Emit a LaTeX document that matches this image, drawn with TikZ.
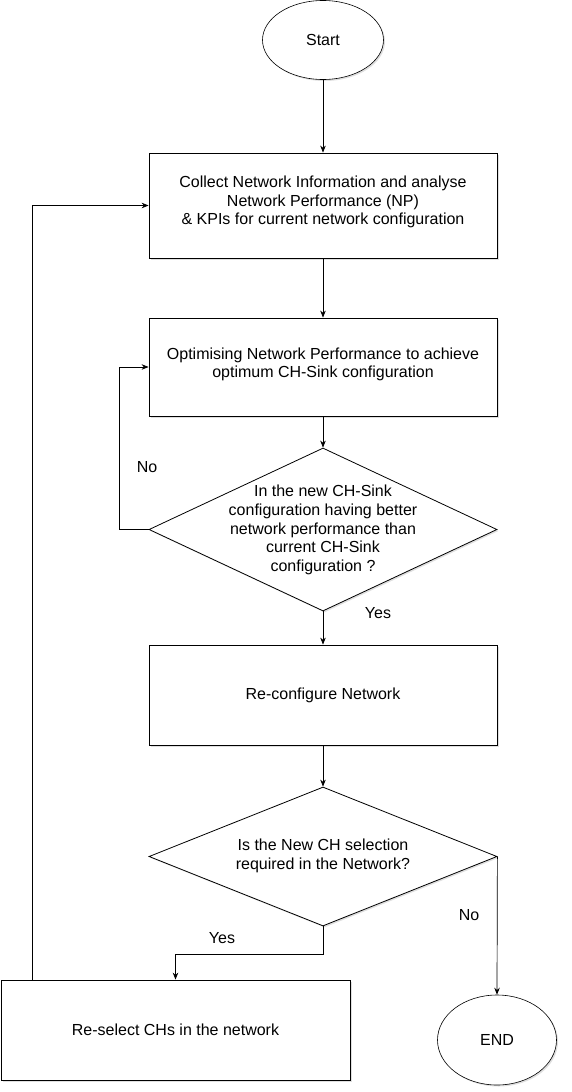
\documentclass[tikz,border=0pt]{standalone}
\usepackage{fontspec}
\setmainfont{Liberation Sans}
\usetikzlibrary{shapes.geometric,arrows.meta,shadows}
\begin{document}
\begin{tikzpicture}[x=1pt,y=-1pt,
  font=\fontsize{16}{18.7}\selectfont,
  shad/.style={drop shadow={opacity=0.25,shadow xshift=1.5pt,shadow yshift=-1.5pt}},
  procbox/.style={draw, fill=white, line width=0.8pt, shad, align=center, inner sep=0pt},
  oval/.style={ellipse, draw, fill=white, line width=0.6pt, shad, inner sep=0pt},
  decision/.style={diamond, draw, fill=white, line width=0.8pt, shad, inner sep=0pt},
  arr/.style={-{Stealth[length=7pt,width=5.5pt]}, line width=0.7pt},
  lbl/.style={inner sep=0pt, align=center}
]
\useasboundingbox (0,0) rectangle (571,1092);
\node[oval, minimum width=121pt, minimum height=79pt] (start) at (323,40) {Start};
\node[procbox, minimum width=348pt, minimum height=105pt] (b1) at (323,205.5) {};
\node[lbl] (b1t) at (323,202) {Collect Network Information and analyse\\Network Performance (NP)\\\& KPIs for current network configuration};
\node[procbox, minimum width=348pt, minimum height=98pt] (b2) at (323,367) {};
\node[lbl] (b2t) at (323,364.5) {Optimising Network Performance to achieve\\optimum CH-Sink configuration};
\node[decision, minimum width=348pt, minimum height=163pt] (d1) at (323,529.5) {};
\node[lbl] (d1t) at (323,530) {In the new CH-Sink\\configuration having better\\network performance than\\current CH-Sink\\ configuration ?};
\node[procbox, minimum width=348pt, minimum height=100pt] (b3) at (323,695) {Re-configure Network};
\node[decision, minimum width=348pt, minimum height=139pt] (d2) at (323,856.5) {};
\node[lbl] (d2t) at (323,856) {Is the New CH selection\\required in the Network?};
\node[procbox, minimum width=349pt, minimum height=100pt] (b4) at (175.5,1030) {Re-select CHs in the network};
\node[oval, minimum width=119pt, minimum height=90pt] (end) at (497,1040) {END};

\draw[arr] (start) -- (b1);
\draw[arr] (b1) -- (b2);
\draw[arr] (b2) -- (d1.north);
\draw[arr] (d1.west) -- ++(-29,0) |- (b2.west);
\draw[arr] (d1.south) -- (b3);
\draw[arr] (b3) -- (d2.north);
\draw[arr] (d2.south) -- ++(0,28) -| (b4.north);
\draw[arr] (d2.east) -- (end.north);
\draw[arr] (b4.north west) ++(32,0) |- (b1.west);

\node[lbl] (no1) at (147,467) {No};
\node[lbl] (yes1) at (378,613) {Yes};
\node[lbl] (yes2) at (222,938) {Yes};
\node[lbl] (no2) at (469,915) {No};
\end{tikzpicture}
\end{document}
